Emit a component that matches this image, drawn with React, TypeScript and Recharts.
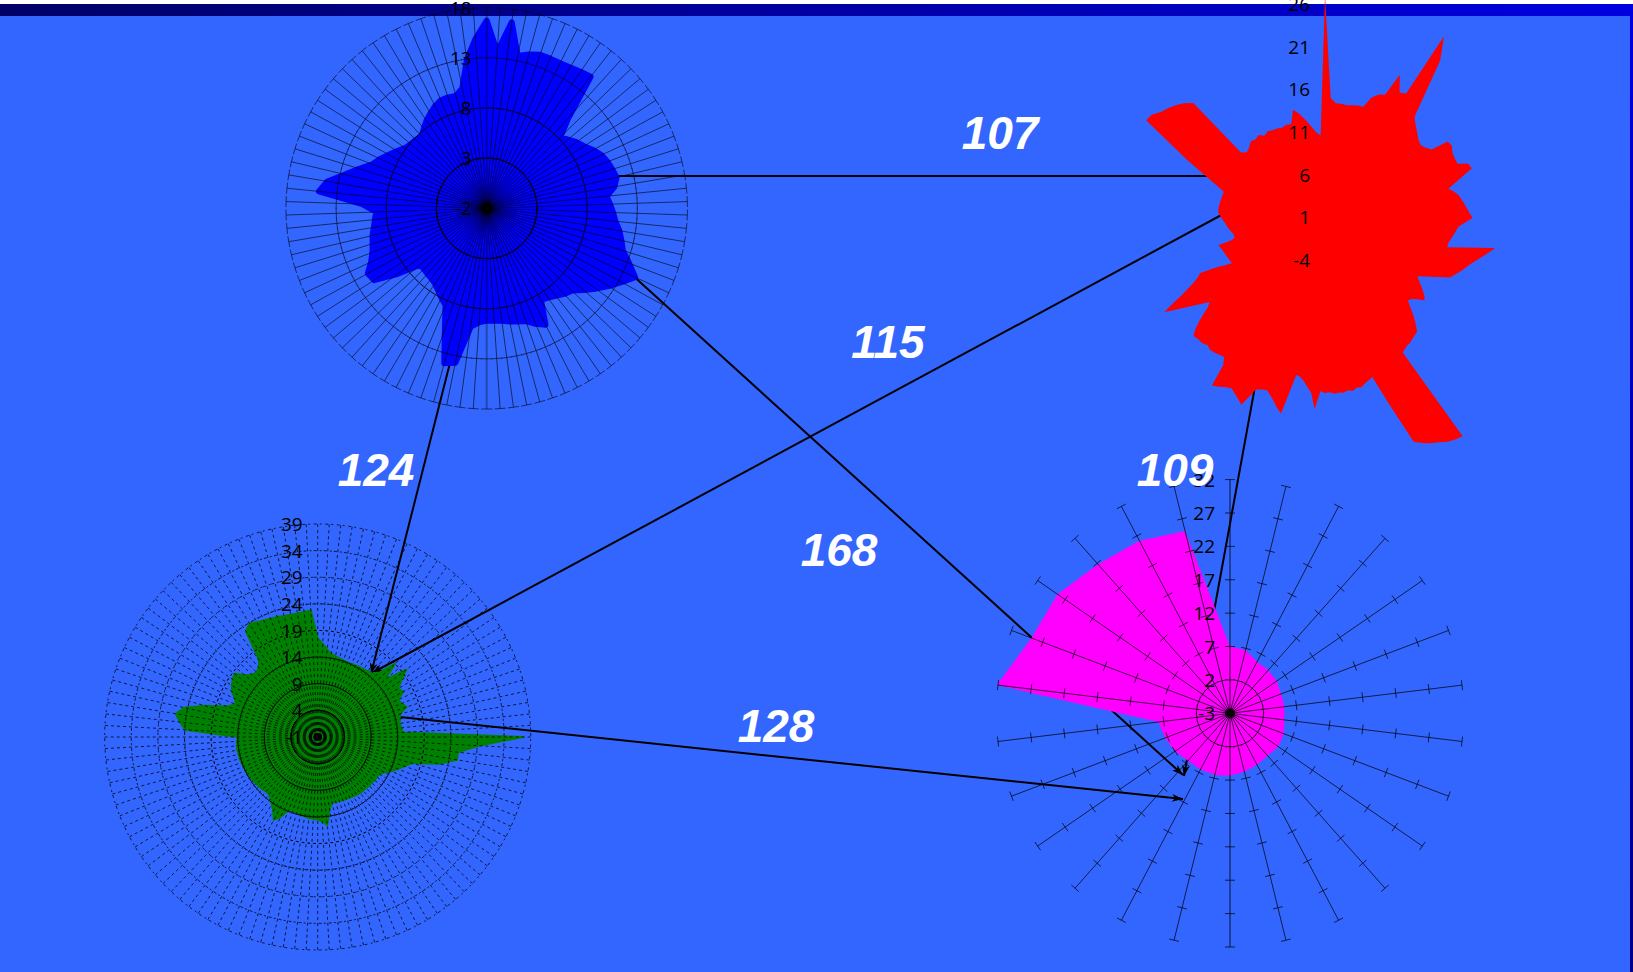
import {
  ComposedChart,
  Line,
  PolarAngleAxis,
  PolarRadiusAxis,
  Radar,
  RadarChart,
  Scatter,
  XAxis,
  YAxis,
} from "recharts";

const PAGE_W = 1633;
const PAGE_H = 972;

const blueTicks = [-2, 3, 8, 13, 18];
const blueValues = [
  16.7, 13.6, 16.7, 13.5, 13.9, 14.2, 14.2, 14.2, 14.3, 14.5, 14.7, 10.1, 8.2, 8.6, 9.1, 9.5, 10.1, 10.6, 10.9, 11.1,
  11.3, 10.9, 10, 10.3, 10.6, 10.9, 11.4, 11.8, 12.2, 13.2, 14.3, 13.3, 12.4, 11.5, 10.6, 9.8, 9.5, 9.1, 8.8, 8.6,
  11, 10.5, 9.9, 9.7, 9.5, 9.3, 9.2, 9.2, 9.4, 9.9, 13.7, 14, 10.7, 8.5, 8, 7.5, 7.1, 6.9, 6.8, 6.7,
  6.7, 9, 11.3, 11.5, 10.7, 10.2, 9.9, 9.7, 9.4, 9.2, 9, 10.4, 14.8, 14.1, 12.5, 11.3, 10.2, 9.7, 9.1, 8.6,
  8.1, 7.9, 7.8, 7.7, 8.1, 8.6, 9, 9.4, 9.7, 9.7, 9.6, 10.2, 12.9, 14.9,
];

const redTicks = [-4, 1, 6, 11, 16, 21, 26];
const redValues = [
  27, 15, 14.4, 14.4, 14.3, 14.4, 14.5, 14.5, 15.8, 16.4, 16.6, 19.4, 17.5, 17.7, 25.7, 23, 15.8, 15, 14.4, 13.8,
  13.5, 13.7, 14, 16, 16, 15.5, 15.3, 15.2, 16.2, 16.3, 12.7, 13.1, 13.4, 13.5, 13.6, 13.7, 13.8, 14, 12.1, 11.6,
  11.1, 10.6, 10.4, 16, 14.9, 13.8, 12.9, 12.2, 11.5, 10.8, 7, 7.2, 7.5, 7.8, 8.1, 8.4, 8.6, 7.2, 6.8, 7.2,
  7.7, 8.2, 8.7, 9.2, 9.7, 9.7, 9.8, 9.9, 9.9, 10, 10.2, 22.2, 22, 21.7, 21.2, 20.8, 20.3, 19.7, 14.5, 10.8,
  11, 11.2, 11.5, 11.4, 11.7, 11.5, 11.7, 11.6, 11.7, 11.5, 11.6, 11.4, 13.5, 11.6, 11, 10.4, 10, 9.9, 14.7, 14.2,
  13.6, 13.1, 12.7, 12.9, 13.2, 15.6, 15.2, 14.9, 14.6, 14.9, 15.4, 15.8, 13.2, 12.4, 12.6, 12.9, 13.1, 13, 13.4, 13.5,
  13.8, 13.2, 12.4, 11.6, 10.8, 10.4, 15.8, 14.6, 13.4, 12.5, 11.7, 11.1, 10.7, 8.8, 6.9, 7.2, 7.5, 7.8, 8.2, 8.6,
  7.8, 7.2, 6.9, 7.2, 7.9, 8.4, 9.1, 9.7, 9.9, 10, 10.1, 10.2, 10.3, 16, 22.6, 22.5, 21.9, 21.6, 21.2, 20.7,
  20, 12, 11.6, 11.9, 12.4, 12.3, 12.6, 12.2, 12.5, 12.4, 12.4, 12.3, 12.5, 12.4, 14, 13.4, 12.6, 11.8, 11, 10.6,
];

const greenTicks = [-1, 4, 9, 14, 19, 24, 29, 34, 39];
const greenValues = [
  17.5, 16.5, 15.5, 14.8, 14.5, 14.3, 14.2, 14.1, 14.1, 14.2, 14.3, 14.4, 14.5, 14.8, 15.6, 19, 15.6, 19.9, 18, 16.6,
  17.2, 15.6, 16, 16.6, 15, 14.8, 14.6, 14.8, 15, 37.6, 29.2, 25.5, 25.5, 22.3, 17.3, 16.2, 15.2, 14.2, 13.2, 12.5,
  12.4, 12.4, 12.3, 12.3, 12.2, 12.2, 12.2, 12.1, 12, 11.9, 11.8, 11.8, 11.7, 11.7, 11.6, 12.8, 15.6, 14.9, 14.5, 14.4,
  14.3, 14.1, 14, 13.8, 13.7, 13.8, 15.5, 16.6, 15.2, 14.3, 13.7, 13.1, 13.1, 13.3, 13.4, 13.5, 13.6, 13.7, 13.8, 13.9,
  14, 14.1, 14.2, 14.2, 14.3, 14.3, 14.2, 13.9, 23.9, 25, 26, 24.6, 21, 17, 15.6, 16.1, 17.2, 17.8, 18.3, 18.6,
  17, 16, 15.7, 16.1, 17.2, 23, 23.8, 23.4, 23.1, 22.9, 22.8, 22.6, 22.5, 22.5, 22.6, 22.8,
];

const magentaTicks = [-3, 2, 7, 12, 17, 22, 27, 32];
const magentaValues = [
  7, 6.75, 5.7, 5.6, 5.5, 5.2, 5.2, 5.2, 5.6, 5.8, 5.5, 5.7, 6, 6.35, 6.5, 6.5, 6.5, 7, 7.4, 7.8,
  32.2, 28.8, 28.4, 26.8, 26.2, 25.1,
];

// page coordinates of the connectors
const edge107 = [{ x: 600, y: 176 }, { x: 1230, y: 176 }];
const edge115 = [{ x: 1240, y: 205 }, { x: 372, y: 673 }];
const edge124 = [{ x: 452, y: 355 }, { x: 371, y: 674 }];
const edge109 = [{ x: 1258, y: 370 }, { x: 1184, y: 776 }];
const edge168 = [{ x: 630, y: 273 }, { x: 1183, y: 775 }];
const edge128 = [{ x: 390, y: 716 }, { x: 1183, y: 799 }];
const arrowEdges = [edge115, edge124, edge109, edge168, edge128];

const edgeLabels = [
  { x: 1000, y: 133, text: "107" },
  { x: 888, y: 342, text: "115" },
  { x: 376, y: 470, text: "124" },
  { x: 1175, y: 470, text: "109" },
  { x: 839, y: 550, text: "168" },
  { x: 776, y: 726, text: "128" },
];

const toRows = (values: number[]) => values.map((value, i) => ({ name: `p${i}`, value }));

function arrowDot(points: { x: number; y: number }[]) {
  const [a, b] = points;
  const len = Math.hypot(b.x - a.x, b.y - a.y);
  const ux = (b.x - a.x) / len;
  const uy = (b.y - a.y) / len;
  return (p: any) => {
    if (p.index !== 1) return <g key={p.index} />;
    const { cx, cy } = p;
    const pts = [
      [cx, cy],
      [cx - ux * 11 - uy * 4, cy - uy * 11 + ux * 4],
      [cx - ux * 8, cy - uy * 8],
      [cx - ux * 11 + uy * 4, cy - uy * 11 - ux * 4],
    ];
    return <polygon key={p.index} points={pts.map((q) => q.join(",")).join(" ")} fill="#000" />;
  };
}

type GridStyle = { width: number; opacity: number; dash?: string; halfTick: number; heavyOpacity: number };

function tickMark(angle: number, grid: GridStyle) {
  const rad = (angle * Math.PI) / 180;
  const dx = Math.sin(rad) * grid.halfTick;
  const dy = Math.cos(rad) * grid.halfTick;
  return (p: any) => (
    <line
      x1={p.x - dx}
      y1={p.y - dy}
      x2={p.x + dx}
      y2={p.y + dy}
      stroke="#000"
      strokeWidth={grid.width}
      strokeOpacity={grid.opacity}
      strokeDasharray={grid.dash}
    />
  );
}

function spokes(count: number, ticks: number[], grid: GridStyle) {
  const domain = [ticks[0], ticks[ticks.length - 1]];
  return Array.from({ length: count }, (_, k) => {
    const angle = 90 - (k * 360) / count;
    const vertical = k === 0 || k === count / 2;
    const line =
      vertical && grid.heavyOpacity > 0
        ? { stroke: "#000", strokeWidth: 2, strokeOpacity: grid.heavyOpacity }
        : { stroke: "#000", strokeWidth: grid.width, strokeOpacity: grid.opacity, strokeDasharray: grid.dash };
    return (
      <PolarRadiusAxis
        key={k}
        angle={angle}
        type="number"
        domain={domain}
        allowDataOverflow
        ticks={ticks as any}
        stroke="#000"
        axisLine={line}
        tick={tickMark(angle, grid)}
      />
    );
  });
}

function valueLabels(ticks: number[]) {
  const renderTick = (p: any) => (
    <text
      x={p.x - 15}
      y={p.y}
      textAnchor="end"
      dominantBaseline="central"
      fontFamily="Open Sans"
      fontSize={19}
      fill="#000"
    >
      {p.payload.value}
    </text>
  );
  return (
    <PolarRadiusAxis
      key="labels"
      angle={90}
      type="number"
      domain={[ticks[0], ticks[ticks.length - 1]]}
      allowDataOverflow
      ticks={ticks as any}
      axisLine={false}
      tick={renderTick}
    />
  );
}

type PolarProps = {
  values: number[];
  ticks: number[];
  cx: number;
  cy: number;
  outerRadius: number;
  color: string;
  strokeWidth: number;
  grid?: GridStyle;
};

function PolarPanel({ values, ticks, cx, cy, outerRadius, color, strokeWidth, grid }: PolarProps) {
  return (
    <div style={{ position: "absolute", left: 0, top: 0 }}>
      <RadarChart
        width={PAGE_W}
        height={PAGE_H}
        data={toRows(values)}
        cx={cx}
        cy={cy}
        innerRadius={0}
        outerRadius={outerRadius}
        margin={{ top: 0, right: 0, bottom: 0, left: 0 }}
      >
        <PolarAngleAxis dataKey="name" tick={false} tickLine={false} axisLine={false} />
        <Radar
          dataKey="value"
          fill={color}
          fillOpacity={1}
          stroke={strokeWidth ? color : "none"}
          strokeWidth={strokeWidth}
          strokeLinejoin="round"
          dot={false}
          isAnimationActive={false}
        />
        {grid ? spokes(values.length, ticks, grid) : null}
        {valueLabels(ticks)}
      </RadarChart>
    </div>
  );
}

const blueGrid: GridStyle = { width: 0.7, opacity: 0.85, halfTick: 5.5, heavyOpacity: 0.3 };
const greenGrid: GridStyle = { width: 0.9, opacity: 0.85, dash: "3 3", halfTick: 4, heavyOpacity: 0 };
const magentaGrid: GridStyle = { width: 0.8, opacity: 0.9, halfTick: 5, heavyOpacity: 0.4 };

export default function App() {
  return (
    <div
      style={{
        position: "absolute",
        left: 0,
        top: 0,
        width: PAGE_W,
        height: PAGE_H,
        overflow: "hidden",
        background: "#fff",
      }}
    >
      <div style={{ position: "absolute", left: 0, top: 16, width: PAGE_W, height: PAGE_H - 16, background: "#3366ff" }} />
      <div
        style={{
          position: "absolute",
          left: 0,
          top: 4,
          width: PAGE_W,
          height: 12,
          background: "linear-gradient(to right, #000066, #0000e0)",
        }}
      />
      <div
        style={{
          position: "absolute",
          left: 1630,
          top: 4,
          width: 3,
          height: PAGE_H - 4,
          background: "linear-gradient(to bottom, #0000e0, #000088)",
        }}
      />

      <div style={{ position: "absolute", left: 0, top: 0 }}>
        <ComposedChart width={PAGE_W} height={PAGE_H} margin={{ top: 0, right: 0, bottom: 0, left: 0 }}>
          <XAxis hide type="number" dataKey="x" domain={[0, PAGE_W]} />
          <YAxis hide type="number" dataKey="y" domain={[0, PAGE_H]} reversed />
          <Line data={edge107} dataKey="y" stroke="#000" strokeWidth={2} dot={false} isAnimationActive={false} />
          {arrowEdges.map((edge, i) => (
            <Line
              key={i}
              data={edge}
              dataKey="y"
              stroke="#000"
              strokeWidth={2}
              dot={arrowDot(edge)}
              isAnimationActive={false}
            />
          ))}
        </ComposedChart>
      </div>

      <PolarPanel values={blueValues} ticks={blueTicks} cx={486.7} cy={208.3} outerRadius={200.7} color="#0000ff" strokeWidth={6} grid={blueGrid} />
      <PolarPanel values={redValues} ticks={redTicks} cx={1325} cy={260} outerRadius={256} color="#ff0000" strokeWidth={0} />
      <PolarPanel values={greenValues} ticks={greenTicks} cx={317.7} cy={737} outerRadius={213} color="#008000" strokeWidth={2} grid={greenGrid} />
      <PolarPanel values={magentaValues} ticks={magentaTicks} cx={1230} cy={713.3} outerRadius={233.7} color="#ff00ff" strokeWidth={0} grid={magentaGrid} />

      <div style={{ position: "absolute", left: 0, top: 0 }}>
        <ComposedChart width={PAGE_W} height={PAGE_H} margin={{ top: 0, right: 0, bottom: 0, left: 0 }}>
          <XAxis hide type="number" dataKey="x" domain={[0, PAGE_W]} />
          <YAxis hide type="number" dataKey="y" domain={[0, PAGE_H]} reversed />
          <Scatter
            data={edgeLabels}
            dataKey="y"
            isAnimationActive={false}
            shape={(p: any) => (
              <text
                x={p.cx}
                y={p.cy}
                textAnchor="middle"
                dominantBaseline="central"
                fontFamily="Liberation Sans"
                fontWeight="bold"
                fontStyle="italic"
                fontSize={46}
                fill="#fff"
              >
                {p.text}
              </text>
            )}
          />
        </ComposedChart>
      </div>
    </div>
  );
}
